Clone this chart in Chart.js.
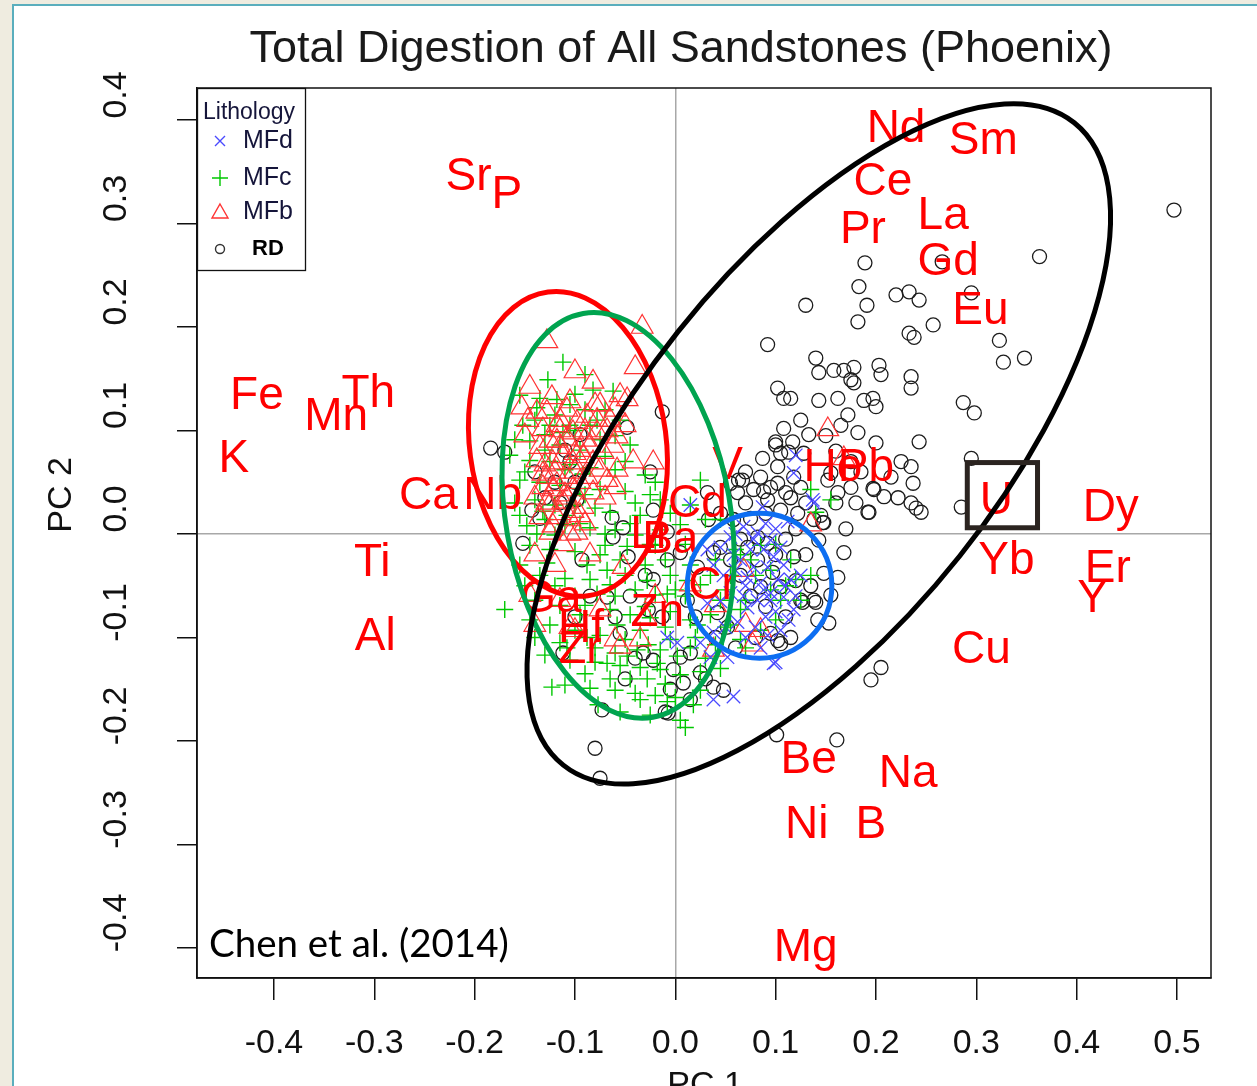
<!DOCTYPE html>
<html><head><meta charset="utf-8">
<script src="https://cdn.jsdelivr.net/npm/chart.js@4.4.1/dist/chart.umd.min.js"></script>
<style>
html,body{margin:0;padding:0;background:#efece0;width:1257px;height:1086px;overflow:hidden;}
#panel{position:absolute;left:12px;top:4px;width:1245px;height:1082px;background:#fff;border-left:2px solid #5aaebd;border-top:2px solid #5aaebd;box-sizing:border-box;}
canvas{position:absolute;left:0;top:0;}
</style></head><body><div id="panel"></div><canvas id="c" width="1257" height="1086"></canvas>
<script>
// ---- data ----
const xTicks = [-0.4,-0.3,-0.2,-0.1,0,0.1,0.2,0.3,0.4,0.5];
const yTicks = [-0.4,-0.3,-0.2,-0.1,0,0.1,0.2,0.3,0.4];

const MFd = [[.118,.059],[.138,.030],[.087,.026],[.068,.007],[.082,.001],[.095,-.006],[.105,-.013],[.088,-.015],[.075,-.015],[.065,-.025],[.078,-.032],[.092,-.032],[.108,-.030],[.115,-.044],[.102,-.044],[.085,-.047],[.072,-.042],[.048,-.040],[.038,-.030],[.032,-.015],[.095,-.057],[.108,-.061],[.082,-.064],[.072,-.071],[.055,-.057],[.045,-.013],[.055,-.003],[.038,-.160],[.058,-.157],[.098,-.125],[.105,-.093],[.113,-.083],[.118,-.073],[.095,-.064],[.088,-.054],[.032,-.067],[.025,-.105],[.038,-.095],[.052,-.119],[.035,-.119],[.002,-.105],[-.008,-.100],[.120,.076],[.137,.033],[.015,.028],[.100,-.124],[.060,.000],[.090,.010],[.100,.005],[.070,-.050],[.062,-.085],[.080,-.090],[.090,-.080],[.125,-.040],[.112,.012],
[.078,-.005],[.098,-.022],[.060,-.035],[.045,-.065],[.100,-.075],[.085,-.110],[.070,-.100],[.058,-.020],[.092,-.098],[.110,-.050],[.068,-.060],[.050,-.090],[.120,-.060]];

const MFc = [[-.112,.166],[-.090,.154],[-.127,.149],[-.082,.139],[-.135,.131],[-.155,.134],[-.105,.125],[-.070,.120],[-.120,.115],[-.140,.110],[-.085,.105],[-.055,.110],[-.100,.100],[-.130,.096],[-.075,.091],[-.160,.091],[-.115,.086],[-.045,.086],[-.095,.081],
[-.165,.076],[-.145,.071],[-.125,.070],[-.105,.067],[-.085,.064],[-.060,.062],[-.030,.057],[-.155,.052],[-.135,.050],[-.115,.047],[-.095,.044],[-.075,.043],[-.050,.041],[-.025,.038],[-.140,.033],[-.120,.028],[-.100,.028],[-.080,.025],[-.065,.021],[-.035,.018],[-.015,.033],[.015,.028],[.025,.052],[-.155,.018],[-.130,.014],[-.110,.009],[-.085,.006],[-.060,.004],[-.040,-.001],[-.015,.004],[.005,.009],[.030,.014],[.045,.014],
[-.145,-.011],[-.125,-.015],[-.100,-.017],[-.075,-.020],[-.055,-.025],[-.030,-.030],[-.010,-.025],[.015,-.030],[.040,-.025],[.065,-.020],[.085,-.011],[-.155,-.030],[-.135,-.040],[-.110,-.043],[-.085,-.044],[-.065,-.049],[-.040,-.054],[-.020,-.059],[.000,-.054],[.025,-.049],[.050,-.054],[.070,-.064],[.095,-.054],[.120,-.044],[.135,-.040],[-.140,-.064],[-.115,-.069],[-.090,-.069],[-.065,-.073],[-.045,-.078],[-.025,-.081],[-.005,-.075],[.015,-.083],[.035,-.078],[.055,-.088],[.085,-.093],[-.125,-.088],[-.100,-.093],[-.075,-.098],[-.050,-.102],[-.027,-.107],[-.005,-.102],[.015,-.110],[.040,-.107],[.065,-.102],[-.170,-.073],[-.145,-.083],
[-.130,-.117],[-.105,-.122],[-.080,-.124],[-.055,-.127],[-.035,-.129],[-.015,-.131],[.005,-.136],[.025,-.133],[-.110,-.146],[-.085,-.149],[-.060,-.151],[-.040,-.154],[-.020,-.156],[.000,-.158],[.025,-.151],[-.123,-.148],[-.055,-.172],[-.025,-.175],[.005,-.180],[.010,-.187],[-.077,-.165],[-.035,-.160],
[.060,-.015],[.075,-.025],[.095,-.035],[.115,-.025],[.105,-.064],[.125,-.064],[.100,-.083],[.135,.043],[.155,.033],[.140,.021],[.045,-.064],[.065,-.073],
[-.130,.081],[-.110,.062],[-.090,.038],[-.120,-.001],[-.070,-.011],[-.050,-.040],[-.020,-.011],[-.095,-.078],[-.035,-.093],[-.015,-.112],
[-.105,.105],[-.090,.120],[-.118,.130],[-.095,.010],[-.070,.000],[-.045,.010],[-.025,-.010],[-.005,-.040],[.010,-.060],[-.060,-.060],[-.030,-.070],[-.010,-.090],[.020,-.100],[-.080,-.110],[-.060,-.115],[-.045,-.140],[-.010,-.145],[.030,-.120],[.045,-.130],[-.100,-.060],[-.120,-.050],[-.150,-.050],[-.140,-.100],[-.115,-.105],[-.090,-.135],[-.065,-.140],[.035,-.040],[.055,-.040],[-.150,.060],[-.160,.030],[-.145,.090],[-.125,.105],[-.070,.075],[-.050,.070],[-.040,.030],[-.005,.020],[.010,-.010],[.050,-.090],[.070,-.110],[.080,-.040],[-.100,.135],[-.060,.095],[-.020,.050],[.100,-.010],[.110,-.050],
[-.132,.022],[-.108,.018],[-.088,-.030],[-.068,-.035],[-.048,-.012],[-.028,-.045],[-.008,-.058],[.012,-.045],[-.078,-.058],[-.058,-.088],[-.038,-.112],[-.018,-.125],[.002,-.118],[.022,-.088],[-.108,-.110],[-.088,-.100],[-.068,-.125],[-.048,-.118],[-.028,-.140],[-.008,-.162],[.018,-.165],[-.138,.000],[-.128,-.028],[-.148,.008],[-.092,.058],[-.112,.098],[-.078,.110],[-.062,.138],[-.138,.122],[-.152,.105]];

const MFb = [[-.033,.200],[-.128,.186],[-.040,.161],[-.100,.157],[-.082,.147],[-.145,.142],[-.123,.132],[-.153,.122],[-.138,.118],[-.055,.134],[-.048,.130],[-.105,.128],[-.075,.125],[-.147,.110],[-.115,.110],[-.088,.114],[-.065,.110],[-.132,.101],[-.102,.098],[-.078,.098],[-.058,.094],[-.135,.084],[-.115,.084],[-.095,.081],[-.072,.079],[-.138,.071],[-.122,.069],[-.102,.069],[-.082,.069],[-.058,.062],[-.042,.070],[-.022,.069],[-.128,.055],[-.108,.055],[-.088,.055],[-.068,.052],[-.122,.043],[-.102,.043],[-.082,.040],[-.128,.030],[-.112,.031],[-.092,.026],[-.118,.016],[-.105,.014],[-.125,.001],[-.135,.016],[-.098,.001],[-.145,-.059],[-.140,-.088],[-.115,-.064],[-.100,-.093],[-.075,-.073],[-.060,-.102],[-.035,-.102],[.015,-.049],[.040,-.069],[.070,-.088],[.085,-.093],[.152,.101],[.168,.073],[.135,.009],[-.052,-.032],[-.105,-.090],[-.055,-.109],[.038,-.112],[.077,-.107],[.068,-.035],[-.115,.100],[-.130,.067],[-.090,.091],[-.110,.038],[-.095,.018],[-.125,.028],[-.075,.062],
[-.118,.105],[-.108,.092],[-.098,.108],[-.125,.090],[-.112,.075],[-.092,.075],[-.100,.060],[-.120,.060],[-.085,.085],[-.115,.020],[-.108,.035],[-.118,.048],[-.095,.050],[-.132,.045],[-.105,.000],[-.112,-.010],[-.090,.010],[-.140,.035],[-.078,.110],[-.062,.085],[-.068,.100],[-.050,.105],[-.150,.095],[-.085,-.020],[-.120,-.030],[-.070,.035],[-.060,.045],[-.140,-.020],[-.030,-.080],[-.020,-.060],
[-.128,.118],[-.108,.120],[-.090,.100],[-.118,.090],[-.100,.078],[-.122,.008],[-.102,.022],[-.132,.058],[-.080,.125],[-.060,.120]];

const RD = [[.497,.313],[.363,.268],[.189,.262],[.266,.263],[.183,.239],[.191,.221],[.220,.231],[.233,.234],[.243,.226],[.295,.233],[.130,.221],[.182,.205],[.233,.194],[.238,.190],[.257,.202],[.323,.187],[.327,.166],[.348,.170],[.092,.183],[.140,.170],[.143,.156],[.158,.158],[.168,.158],[.178,.161],[.175,.149],[.178,.146],[.203,.163],[.205,.154],[.235,.152],[.235,.141],[.102,.141],[.108,.131],[.115,.131],[.143,.129],[.162,.131],[.188,.129],[.197,.131],[.200,.123],[.287,.127],[.298,.117],[.172,.115],[.165,.105],[.108,.102],[.133,.096],[.182,.098],[.100,.089],[.117,.089],[.200,.088],[.243,.089],[.087,.073],[.105,.078],[.113,.079],[.295,.073],[.235,.065],[.237,.049],[.197,.044],[.208,.036],[.222,.035],[.235,.030],[.240,.025],[.245,.021],[.192,.021],[.285,.026],[.162,.040],[.175,.045],[.145,.018],[.088,.041],[.102,.049],[.118,.055],[.152,.052],[.128,.078],[.155,.059],
[.100,.086],[.102,.065],[.063,.052],[.078,.043],[.062,.040],[.092,.033],[.115,.035],[.070,.030],[.105,.023],[.122,.020],[.138,.014],[.147,.011],[.198,.043],[.168,-.018],[.148,-.038],[.140,-.066],[.127,-.066],[.118,-.022],[.092,-.009],[.082,-.003],[.072,-.013],[.082,-.025],[.045,-.013],[.038,-.018],[.058,.014],[.045,.020],[.033,.014],[.097,-.037],[.105,-.051],[.085,-.051],
[.155,-.059],[.153,-.086],[.205,-.129],[.195,-.141],[.161,-.199],[.101,-.194],
[-.184,.083],[-.170,.079],[-.013,.118],[-.048,.103],[-.025,.060],[-.110,.081],[-.095,.096],[-.135,.015],[-.143,.023],[-.098,.033],[-.063,.016],[-.052,.006],[-.062,-.003],[-.022,.023],[-.008,.002],[-.093,-.025],[-.047,-.022],[-.008,-.025],[-.152,-.009],[.032,.040],[.055,.049],[.067,.052],
[-.068,-.061],[-.022,-.044],[.005,-.018],[.022,-.032],[.012,-.064],[-.027,-.073],[-.013,-.080],[-.032,-.115],[-.022,-.122],[.005,-.119],[.015,-.115],[-.002,-.131],[.008,-.144],[.038,-.148],[.048,-.151],[.025,-.134],[-.010,-.172],[-.073,-.170],[-.080,-.207],[-.112,-.115],[-.055,-.096],[.042,-.076],[.052,-.090],[.095,-.096],[.102,-.103],[.105,-.106],[.125,-.064],[.138,-.064],[.142,-.083],[.193,.021],[.143,-.006],[.148,.011],[.162,-.042],[-.075,-.236],[-.007,-.173],
[.070,.060],[.085,.055],[.095,.045],[.110,.040],[.125,.045],[.130,.030],[.120,.005],[.110,-.005],[.100,-.020],[.090,.020],[.075,.015],[.065,-.005],[.055,-.025],[.065,-.040],[.075,-.060],[.090,-.070],[.110,-.080],[.120,-.045],[.130,-.020],[.135,-.050],[.115,-.100],[.080,-.100],[.060,-.110],[.040,-.100],[.020,-.080],[.030,-.140],[.015,-.160],[-.005,-.150],[-.040,-.120],[-.050,-.140],[-.060,-.080],[-.085,-.060],[-.100,-.080],[-.030,-.040],[-.045,-.060],[.160,.080],[.175,.070],[.185,.060],[.215,.055],[.225,.070],[.150,.095],[.125,.110],[.160,.030],[.180,.030],[.170,.005],[-.120,.050],[-.115,.030],[-.130,.035],[-.100,.050],[-.140,.060],[-.105,.070]];

const elementNames = ['Sr','P','Nd','Sm','Ce','La','Pr','Gd','Eu','Fe','Mn','Th','K','Ca','Nb','V','Ho','Pb','Cd','Li','Ba','Cr','Ti','Al','Ga','Zn','Hf','Zr','U','Dy','Yb','Er','Y','Cu','Be','Na','Ni','B','Mg'];
const elementX = [-.206,-.168,.220,.307,.207,.267,.187,.272,.304,-.417,-.338,-.306,-.440,-.246,-.182,.052,.157,.190,.022,-.027,-.005,.037,-.302,-.299,-.124,-.018,-.094,-.095,.320,.434,.330,.431,.416,.305,.133,.232,.131,.195,.130];
const elementY = [.348,.331,.395,.383,.343,.311,.297,.266,.219,.137,.116,.139,.076,.040,.040,.069,.067,.067,.032,.002,-.002,-.047,-.025,-.096,-.059,-.073,-.088,-.109,.035,.028,-.023,-.030,-.059,-.109,-.215,-.229,-.278,-.278,-.397];

const seriesNames = ['MFd','MFc','MFb','RD'];

// annotation shapes (data-space centre, data-space radii, rotation degrees)
const groupEllipses = [
  {cx:-.107, cy:.087, rx:.098, ry:.148, rot:-7.5, color:'#ff0000'},
  {cx:-.057, cy:.018, rx:.112, ry:.198, rot:-9.8, color:'#00a44f'},
  {cx:.084, cy:-.050, rx:.072, ry:.070, rot:0, color:'#0d6ef2'},
  {cx:.143, cy:.087, rx:.409, ry:.174, rot:-51.5, color:'#000000'}
];
const highlightBox = {x0:.291, x1:.361, y0:.069, y1:.006};

const toXY = arr => arr.map(p => ({x:p[0], y:p[1]}));
const FONT = '"Liberation Sans", Arial, sans-serif';

const decor = {
  id:'decor',
  afterDatasetsDraw(chart){
    const ctx = chart.ctx, xs = chart.scales.x, ys = chart.scales.y, ca = chart.chartArea;
    ctx.save();
    // element labels
    ctx.fillStyle = '#ff0000';
    ctx.font = '46px ' + FONT;
    ctx.textAlign = 'center';
    ctx.textBaseline = 'alphabetic';
    elementNames.forEach((n,i)=>{
      const px = xs.getPixelForValue(elementX[i]);
      const py = ys.getPixelForValue(elementY[i]);
      ctx.fillText(n, px, py + 0.358*46);
    });
    // ellipses
    const pxX = xs.getPixelForValue(1) - xs.getPixelForValue(0);
    const pxY = ys.getPixelForValue(0) - ys.getPixelForValue(1);
    ctx.lineWidth = 5;
    groupEllipses.forEach(e=>{
      ctx.beginPath();
      ctx.strokeStyle = e.color;
      ctx.ellipse(xs.getPixelForValue(e.cx), ys.getPixelForValue(e.cy), e.rx*pxX, e.ry*pxY, e.rot*Math.PI/180, 0, Math.PI*2);
      ctx.stroke();
    });
    // highlight box around U
    ctx.strokeStyle = '#2b2420';
    ctx.lineWidth = 5;
    const bx0 = xs.getPixelForValue(highlightBox.x0), bx1 = xs.getPixelForValue(highlightBox.x1);
    const by0 = ys.getPixelForValue(highlightBox.y0), by1 = ys.getPixelForValue(highlightBox.y1);
    ctx.strokeRect(bx0, by0, bx1-bx0, by1-by0);
    // plot box
    ctx.strokeStyle = '#111';
    ctx.lineWidth = 1.5;
    ctx.strokeRect(ca.left, ca.top, ca.right-ca.left, ca.bottom-ca.top);
    // legend
    ctx.fillStyle = '#fff';
    ctx.fillRect(ca.left, ca.top, 108, 182);
    ctx.strokeStyle = '#111';
    ctx.lineWidth = 1.3;
    ctx.strokeRect(ca.left+0.5, ca.top+0.5, 108, 182);
    const lx = ca.left + 23, tx = ca.left + 46;
    ctx.textAlign = 'left';
    ctx.fillStyle = '#15153a';
    ctx.font = '23px ' + FONT;
    ctx.fillText('Lithology', ca.left+6, ca.top+31);
    ctx.font = '25px ' + FONT;
    const rows = [ca.top+53, ca.top+90, ca.top+124, ca.top+161];
    ctx.textBaseline = 'middle';
    ctx.fillText(seriesNames[0], tx, rows[0]);
    ctx.fillText(seriesNames[1], tx, rows[1]);
    ctx.fillText(seriesNames[2], tx, rows[2]);
    ctx.fillStyle = '#000';
    ctx.font = 'bold 22px ' + FONT;
    ctx.fillText(seriesNames[3], ca.left+55, rows[3]);
    ctx.lineWidth = 1.4;
    ctx.strokeStyle = '#4a4aff';
    ctx.beginPath(); ctx.moveTo(lx-5,rows[0]-5); ctx.lineTo(lx+5,rows[0]+5); ctx.moveTo(lx-5,rows[0]+5); ctx.lineTo(lx+5,rows[0]-5); ctx.stroke();
    ctx.strokeStyle = '#00c800';
    ctx.beginPath(); ctx.moveTo(lx-8,rows[1]); ctx.lineTo(lx+8,rows[1]); ctx.moveTo(lx,rows[1]-8); ctx.lineTo(lx,rows[1]+8); ctx.stroke();
    ctx.strokeStyle = '#ff3333';
    ctx.beginPath(); ctx.moveTo(lx,rows[2]-8); ctx.lineTo(lx+8,rows[2]+6); ctx.lineTo(lx-8,rows[2]+6); ctx.closePath(); ctx.stroke();
    ctx.strokeStyle = '#333';
    ctx.beginPath(); ctx.arc(lx, rows[3], 4.5, 0, Math.PI*2); ctx.stroke();
    // citation
    ctx.fillStyle = '#000';
    ctx.textBaseline = 'alphabetic';
    ctx.font = '38.5px Lato, "Open Sans", sans-serif';
    ctx.fillText('Chen et al. (2014)', 209, 957);
    // title
    ctx.textAlign = 'center';
    ctx.fillStyle = '#1a1a1a';
    ctx.font = '45px ' + FONT;
    ctx.fillText('Total Digestion of All Sandstones (Phoenix)', 681, 62);
    // x axis title
    ctx.fillStyle = '#111';
    ctx.font = '34px ' + FONT;
    ctx.fillText('PC 1', 705, 1095);
    // y tick labels (rotated) and y title
    ctx.textBaseline = 'middle';
    yTicks.forEach(v=>{
      const py = ys.getPixelForValue(v) - 25;
      ctx.save();
      ctx.translate(117, py);
      ctx.rotate(-Math.PI/2);
      ctx.fillText(v.toFixed(1), 0, 0);
      ctx.restore();
    });
    ctx.save();
    ctx.translate(62, 495);
    ctx.rotate(-Math.PI/2);
    ctx.fillText('PC 2', 0, 0);
    ctx.restore();
    ctx.restore();
  }
};

const zeroGrid = c => (c.tick && c.tick.value === 0) ? '#a8a8a8' : 'rgba(0,0,0,0)';

new Chart(document.getElementById('c'), {
  type:'scatter',
  data:{
    datasets:[
      {label:seriesNames[0], data:toXY(MFd), pointStyle:'crossRot', radius:9.5, borderColor:'#4a4aff', backgroundColor:'transparent', borderWidth:1.3},
      {label:seriesNames[2], data:toXY(MFb), pointStyle:'triangle', radius:12.5, borderColor:'#ff3333', backgroundColor:'transparent', borderWidth:1.2},
      {label:seriesNames[1], data:toXY(MFc), pointStyle:'cross', radius:8.5, borderColor:'#00c800', backgroundColor:'transparent', borderWidth:1.4},
      {label:seriesNames[3], data:toXY(RD), pointStyle:'circle', radius:7, borderColor:'#1c1c1c', backgroundColor:'transparent', borderWidth:1.3}
    ]
  },
  options:{
    responsive:false,
    animation:false,
    events:[],
    layout:{padding:{top:88, right:46, left:0, bottom:0}},
    plugins:{legend:{display:false}, title:{display:false}, tooltip:{enabled:false}},
    scales:{
      x:{type:'linear', position:'bottom', min:-0.4767, max:0.5339,
        afterBuildTicks:s=>{ s.ticks = xTicks.map(v=>({value:v})); },
        afterFit:s=>{ s.height = 108; },
        grid:{drawOnChartArea:true, drawTicks:true, tickLength:22, color:zeroGrid, tickColor:'#111', lineWidth:1.5},
        border:{display:true, color:'#111', width:1.5},
        ticks:{color:'#111', font:{family:FONT, size:34}, padding:23, maxRotation:0, minRotation:0, autoSkip:false, callback:v=>Number(v).toFixed(1)}
      },
      y:{type:'linear', position:'left', min:-0.4290, max:0.4309,
        afterBuildTicks:s=>{ s.ticks = yTicks.map(v=>({value:v})); },
        afterFit:s=>{ s.width = 197; },
        grid:{drawOnChartArea:true, drawTicks:true, tickLength:20, color:zeroGrid, tickColor:'#111', lineWidth:1.5},
        border:{display:true, color:'#111', width:1.5},
        ticks:{display:false}
      }
    }
  },
  plugins:[decor]
});
</script>
</body></html>
